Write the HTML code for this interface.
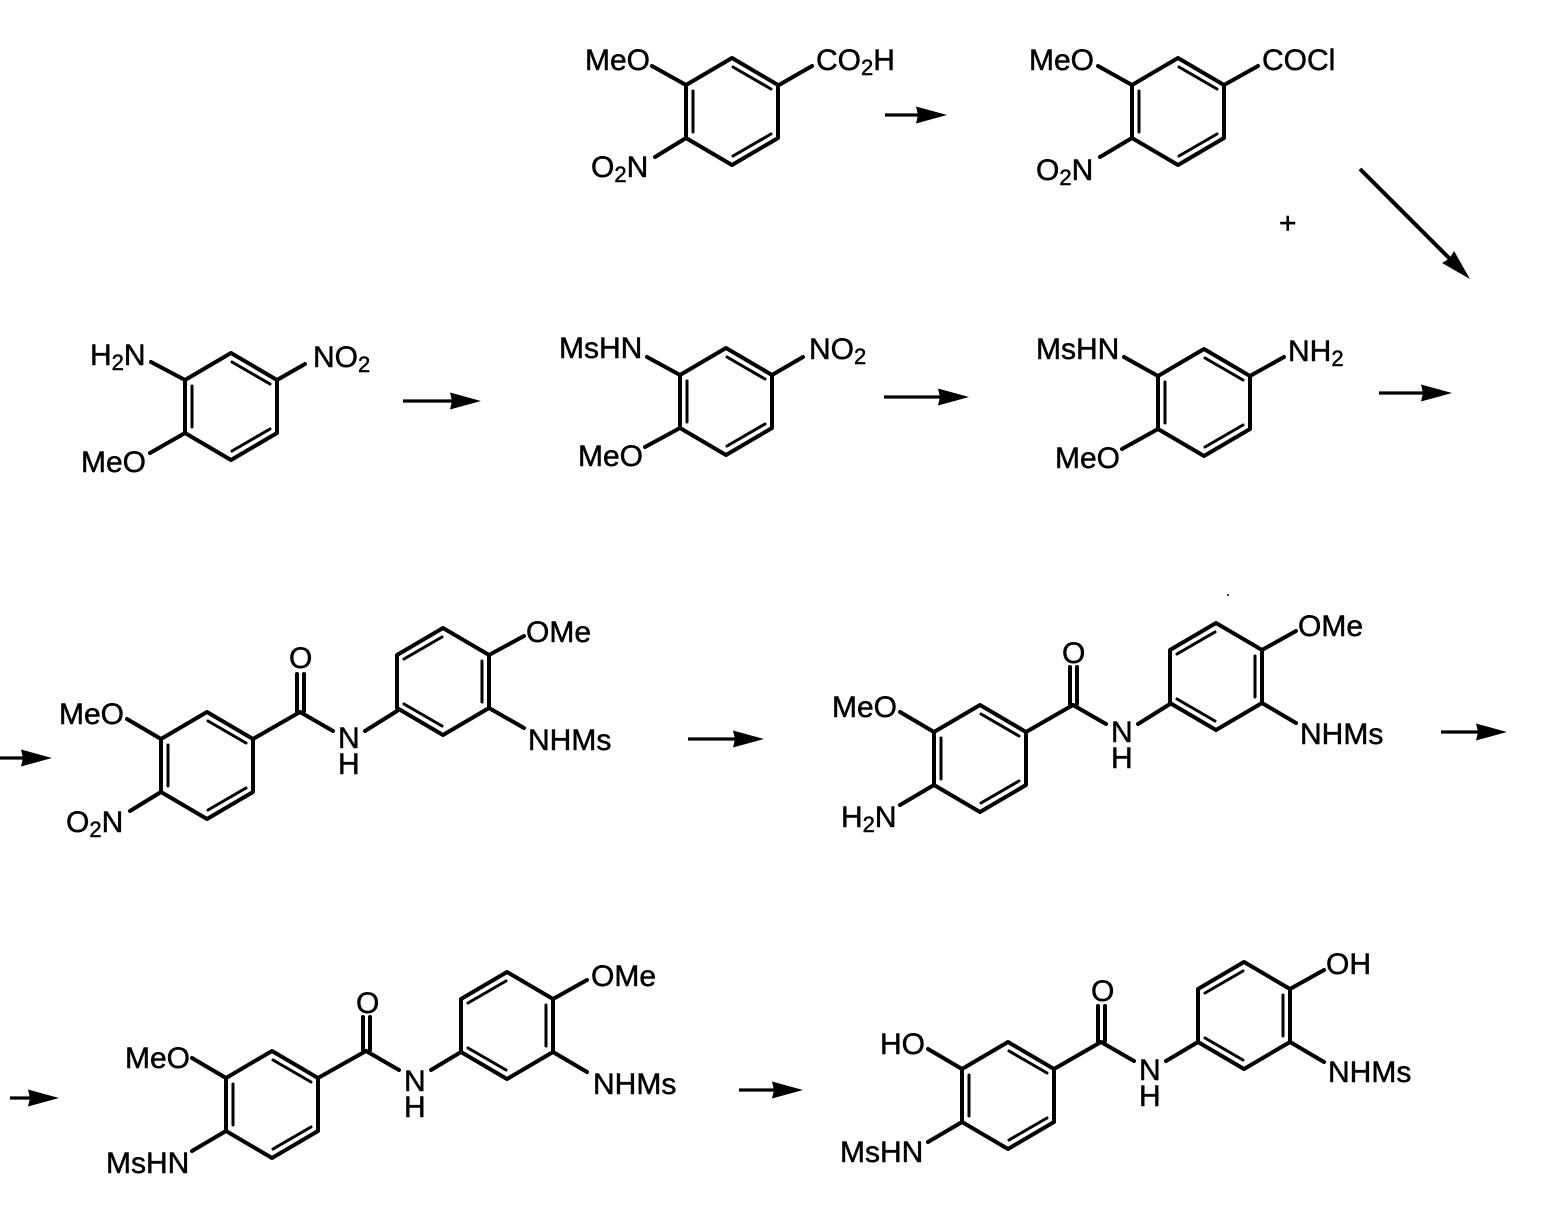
<!DOCTYPE html>
<html><head><meta charset="utf-8"><style>
html,body{margin:0;padding:0;background:#fff}
svg{display:block}
text{font-family:"Liberation Sans",Arial,sans-serif;font-size:30px;fill:#000;stroke:#000;stroke-width:.5}
.s{font-size:22px}
.b line{stroke:#000;stroke-width:4;fill:none;stroke-linecap:round}
</style></head><body>
<svg width="1544" height="1216" viewBox="0 0 1544 1216" xmlns="http://www.w3.org/2000/svg">
<defs>
<g id="A" fill="none" stroke="#000" stroke-linejoin="round" stroke-linecap="round"><path stroke-width="4" d="M0,0L46,27V80L0,107L-46,80V27Z"/><path stroke-width="3" d="M-39,33V74M1,9L39,31M39,76L1,98"/></g>
<g id="B" fill="none" stroke="#000" stroke-linejoin="round" stroke-linecap="round"><path stroke-width="4" d="M0,0L46,27V80L0,107L-46,80V27Z"/><path stroke-width="3" d="M39,33V74M-1,9L-39,31M-39,76L-1,98"/></g>
<marker id="h" markerUnits="userSpaceOnUse" markerWidth="32" markerHeight="18" refX="23" refY="9" orient="auto"><path d="M0,0.5L31,9L0,17.5L2,9Z" fill="#000"/></marker>
</defs>
<g class="b">
<use href="#A" x="732" y="58"/><line x1="779" y1="85" x2="812" y2="66"/><line x1="686" y1="85" x2="652" y2="66"/><line x1="686" y1="138" x2="655" y2="157"/>
<use href="#A" x="1178" y="58"/><line x1="1224" y1="85" x2="1258" y2="66"/><line x1="1132" y1="85" x2="1098" y2="66"/><line x1="1132" y1="138" x2="1100" y2="157"/>
<use href="#A" x="231" y="353"/><line x1="277" y1="380" x2="305" y2="364"/><line x1="185" y1="380" x2="151" y2="362"/><line x1="185" y1="433" x2="150" y2="453"/>
<use href="#A" x="726" y="348"/><line x1="772" y1="375" x2="803" y2="357"/><line x1="680" y1="375" x2="647" y2="357"/><line x1="680" y1="428" x2="645" y2="447"/>
<use href="#A" x="1204" y="349"/><line x1="1250" y1="376" x2="1284" y2="357"/><line x1="1158" y1="376" x2="1124" y2="357"/><line x1="1158" y1="429" x2="1122" y2="449"/>

<use href="#A" x="207" y="712"/><line x1="161" y1="739" x2="127" y2="719"/><line x1="161" y1="792" x2="130" y2="811"/><line x1="253" y1="739" x2="300" y2="712"/><line x1="297" y1="711" x2="297" y2="674"/><line x1="304" y1="711" x2="304" y2="674"/><line x1="300" y1="712" x2="333" y2="731"/><line x1="365" y1="731" x2="397" y2="711"/>
<use href="#B" x="443" y="628"/><line x1="489" y1="655" x2="524" y2="636"/><line x1="489" y1="708" x2="524" y2="728"/>

<use href="#A" x="980" y="705"/><line x1="934" y1="732" x2="900" y2="712"/><line x1="934" y1="785" x2="900" y2="805"/><line x1="1026" y1="732" x2="1073" y2="705"/><line x1="1070" y1="704" x2="1070" y2="667"/><line x1="1077" y1="704" x2="1077" y2="667"/><line x1="1073" y1="705" x2="1106" y2="724"/><line x1="1138" y1="724" x2="1170" y2="704"/>
<use href="#B" x="1216" y="623"/><line x1="1262" y1="650" x2="1296" y2="631"/><line x1="1262" y1="703" x2="1296" y2="723"/>

<use href="#A" x="272" y="1051"/><line x1="226" y1="1078" x2="192" y2="1058"/><line x1="226" y1="1131" x2="192" y2="1151"/><line x1="318" y1="1078" x2="366" y2="1051"/><line x1="363" y1="1050" x2="363" y2="1017"/><line x1="370" y1="1050" x2="370" y2="1017"/><line x1="366" y1="1051" x2="399" y2="1070"/><line x1="431" y1="1070" x2="461" y2="1052"/>
<use href="#B" x="507" y="972"/><line x1="553" y1="999" x2="587" y2="980"/><line x1="553" y1="1052" x2="587" y2="1072"/>

<use href="#A" x="1008" y="1042"/><line x1="962" y1="1069" x2="928" y2="1049"/><line x1="962" y1="1122" x2="928" y2="1142"/><line x1="1054" y1="1069" x2="1101" y2="1042"/><line x1="1098" y1="1041" x2="1098" y2="1006"/><line x1="1105" y1="1041" x2="1105" y2="1006"/><line x1="1101" y1="1042" x2="1134" y2="1061"/><line x1="1166" y1="1061" x2="1198" y2="1042"/>
<use href="#B" x="1244" y="962"/><line x1="1290" y1="989" x2="1324" y2="970"/><line x1="1290" y1="1042" x2="1324" y2="1062"/>
</g>
<g stroke="#000" stroke-width="3.2" fill="none">
<line x1="885" y1="115" x2="939" y2="115" marker-end="url(#h)"/>
<line x1="1360" y1="169" x2="1464.3" y2="273.3" stroke-width="4" marker-end="url(#h)"/>
<line x1="403" y1="401" x2="473" y2="401" marker-end="url(#h)"/>
<line x1="884" y1="397" x2="961" y2="397" marker-end="url(#h)"/>
<line x1="1379" y1="393" x2="1444" y2="393" marker-end="url(#h)"/>
<line x1="0" y1="758" x2="44" y2="758" marker-end="url(#h)"/>
<line x1="688" y1="739" x2="756" y2="739" marker-end="url(#h)"/>
<line x1="1441" y1="732" x2="1499" y2="732" marker-end="url(#h)"/>
<line x1="10" y1="1098" x2="51" y2="1098" marker-end="url(#h)"/>
<line x1="739" y1="1090" x2="795" y2="1090" marker-end="url(#h)"/>
</g>
<circle cx="1228" cy="595" r="1" fill="#000"/>

<g transform="translate(0,-1)">
<text x="585" y="71">MeO</text>
<text x="816" y="71">CO<tspan class="s" dy="5">2</tspan><tspan dy="-5">H</tspan></text>
<text x="591" y="178">O<tspan class="s" dy="5">2</tspan><tspan dy="-5">N</tspan></text>

<text x="1029" y="71">MeO</text>
<text x="1262" y="71">COCl</text>
<text x="1036" y="181">O<tspan class="s" dy="5">2</tspan><tspan dy="-5">N</tspan></text>
<text x="1279" y="234">+</text>

<text x="90" y="366">H<tspan class="s" dy="5">2</tspan><tspan dy="-5">N</tspan></text>
<text x="313" y="368">NO<tspan class="s" dy="5">2</tspan></text>
<text x="81" y="473">MeO</text>

<text x="559" y="359">MsHN</text>
<text x="809" y="360">NO<tspan class="s" dy="5">2</tspan></text>
<text x="578" y="467">MeO</text>

<text x="1036" y="360">MsHN</text>
<text x="1288" y="362">NH<tspan class="s" dy="5">2</tspan></text>
<text x="1055" y="469">MeO</text>

<text x="59" y="725">MeO</text>
<text x="66" y="833">O<tspan class="s" dy="5">2</tspan><tspan dy="-5">N</tspan></text>
<text x="289" y="669">O</text>
<text x="338" y="749">N</text>
<text x="338" y="775">H</text>
<text x="526" y="643">OMe</text>
<text x="528" y="751">NHMs</text>

<text x="832" y="718">MeO</text>
<text x="841" y="828">H<tspan class="s" dy="5">2</tspan><tspan dy="-5">N</tspan></text>
<text x="1062" y="664">O</text>
<text x="1111" y="743">N</text>
<text x="1111" y="769">H</text>
<text x="1298" y="637">OMe</text>
<text x="1300" y="745">NHMs</text>

<text x="125" y="1069">MeO</text>
<text x="106" y="1174">MsHN</text>
<text x="356" y="1014">O</text>
<text x="404" y="1092">N</text>
<text x="404" y="1118">H</text>
<text x="591" y="987">OMe</text>
<text x="593" y="1095">NHMs</text>

<text x="880" y="1055">HO</text>
<text x="840" y="1163">MsHN</text>
<text x="1091" y="1002">O</text>
<text x="1139" y="1081">N</text>
<text x="1139" y="1107">H</text>
<text x="1326" y="975">OH</text>
<text x="1328" y="1083">NHMs</text>
</g>
</svg>
</body></html>
